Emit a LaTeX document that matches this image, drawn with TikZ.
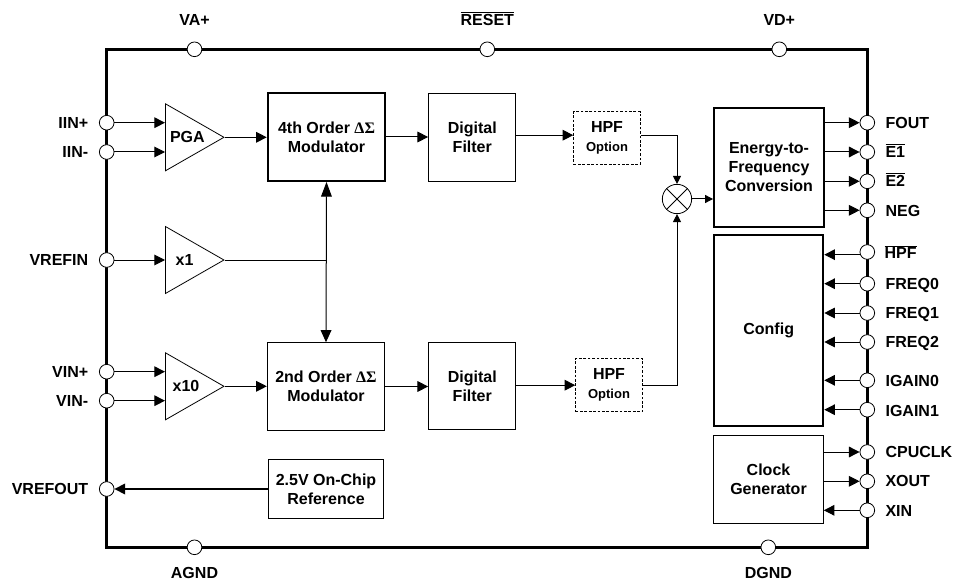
\documentclass[tikz,border=0pt]{standalone}
\usepackage{fontspec}
\setmainfont{Liberation Sans}
\newfontfamily\greekfont{Liberation Serif}
\usetikzlibrary{arrows.meta,shapes.geometric}
\newcommand{\barred}[1]{$\overline{\hbox{#1}}$}

\begin{document}
\begin{tikzpicture}[x=0.75pt, y=-0.75pt,
                    every node/.style = {font=\fontsize{12}{14.4}\selectfont\bfseries, align=center},
                    chip/.style = {draw, line width=2.5pt, minimum width=570.4pt, minimum height=373.5pt},
                    pin/.style = {draw, circle, fill=white, line width=0.6pt, inner sep=0pt, minimum size=11pt},
                    block/.style = {draw, line width=0.75pt, inner sep=0pt},
                    heavy/.style = {draw, line width=1.4pt, inner sep=0pt},
                    option/.style = {draw, line width=0.6pt, inner sep=0pt, dash pattern=on 2pt off 1.3pt},
                    amp/.style = {draw, isosceles triangle, isosceles triangle apex angle=59.6, line width=0.6pt, inner sep=0pt, minimum height=43.9pt, minimum width=50pt, anchor=west},
                    pinname/.style = {inner sep=0pt, text height=8.7pt, text depth=0pt},
                    sig/.style = {line width=0.75pt, -{Triangle[length=8pt,width=8pt]}},
                    tiny/.style = {line width=0.75pt, -{Triangle[length=6pt,width=6pt]}},
                    wire/.style = {line width=0.75pt}]
    \useasboundingbox (0,0) rectangle (953,581);

    \node[chip] (chip) at (487,298.3) {};

    \node[pin] (vap) at (194.5,49.3) {};
    \node[pin] (reset) at (487.3,49.3) {};
    \node[pin] (vdp) at (779.3,49.3) {};
    \node[pin] (agnd) at (194.5,547.3) {};
    \node[pin] (dgnd) at (768.3,547.3) {};
    \node[pin] (iinp) at (106.7,122.7) {};
    \node[pin] (iinn) at (106.7,152) {};
    \node[pin] (vrefin) at (106.7,260) {};
    \node[pin] (vinp) at (106.7,371.7) {};
    \node[pin] (vinn) at (106.7,400.7) {};
    \node[pin] (vrefout) at (106.7,489) {};
    \node[pin] (fout) at (867.3,122.7) {};
    \node[pin] (eone) at (867.3,152) {};
    \node[pin] (etwo) at (867.3,181.3) {};
    \node[pin] (neg) at (867.3,210.3) {};
    \node[pin] (nhpf) at (867.3,252) {};
    \node[pin] (freqa) at (867.3,283.7) {};
    \node[pin] (freqb) at (867.3,313) {};
    \node[pin] (freqc) at (867.3,342) {};
    \node[pin] (igaina) at (867.3,380.3) {};
    \node[pin] (igainb) at (867.3,409.7) {};
    \node[pin] (cpuclk) at (867.3,452) {};
    \node[pin] (xout) at (867.3,481.3) {};
    \node[pin] (xin) at (867.3,510.3) {};

    \node[pinname] (vapname) at (194.5,20) {VA+};
    \node[pinname] (resetname) at (487.3,20) {\barred{RESET}};
    \node[pinname] (vdpname) at (779.3,20) {VD+};
    \node[pinname] (agndname) at (194.5,573) {AGND};
    \node[pinname] (dgndname) at (768.3,573) {DGND};
    \node[pinname, anchor=east] (iinpname) at (88.5,122.7) {IIN+};
    \node[pinname, anchor=east] (iinnname) at (88.5,151.7) {IIN-};
    \node[pinname, anchor=east] (vrefinname) at (88.5,259.7) {VREFIN};
    \node[pinname, anchor=east] (vinpname) at (88.5,371.3) {VIN+};
    \node[pinname, anchor=east] (vinnname) at (88.5,400.3) {VIN-};
    \node[pinname, anchor=east] (vrefoutname) at (88.5,488.3) {VREFOUT};
    \node[pinname, anchor=west] (foutname) at (885.3,122.3) {FOUT};
    \node[pinname, anchor=west] (eonename) at (885.3,151.7) {\barred{E1}};
    \node[pinname, anchor=west] (etwoname) at (885.3,180.3) {\barred{E2}};
    \node[pinname, anchor=west] (negname) at (885.3,210.3) {NEG};
    \node[pinname, anchor=west] (nhpfname) at (884.3,253) {\barred{HPF}};
    \node[pinname, anchor=west] (freqaname) at (885.3,283.3) {FREQ0};
    \node[pinname, anchor=west] (freqbname) at (885.3,312.7) {FREQ1};
    \node[pinname, anchor=west] (freqcname) at (885.3,341.7) {FREQ2};
    \node[pinname, anchor=west] (igainaname) at (885.3,380.7) {IGAIN0};
    \node[pinname, anchor=west] (igainbname) at (885.3,410.3) {IGAIN1};
    \node[pinname, anchor=west] (cpuclkname) at (885.3,451.3) {CPUCLK};
    \node[pinname, anchor=west] (xoutname) at (885.3,480.3) {XOUT};
    \node[pinname, anchor=west] (xinname) at (885.3,510.3) {XIN};

    \node[amp] (pga) at (165,137.3) {PGA};
    \node[amp] (xone) at (165,260) {x1};
    \node[amp] (xten) at (165,386.3) {x10};

    \node[heavy, minimum width=88.2pt, minimum height=66pt] (modfour) at (326.5,137) {4th Order {\greekfont ΔΣ}\\Modulator};
    \node[block, minimum width=88pt, minimum height=65.7pt] (modtwo) at (326,386.5) {2nd Order {\greekfont ΔΣ}\\Modulator};
    \node[block, minimum width=65.5pt, minimum height=65.8pt] (digone) at (472.3,137.2) {Digital\\Filter};
    \node[block, minimum width=65.5pt, minimum height=65.3pt] (digtwo) at (472.3,386.2) {Digital\\Filter};
    \node[option, minimum width=50pt, minimum height=39.2pt] (hpfone) at (607,137.8) {HPF\\{\fontsize{9.75}{13}\selectfont Option}};
    \node[option, minimum width=50pt, minimum height=39.8pt] (hpftwo) at (609,385.2) {HPF\\{\fontsize{9.75}{13}\selectfont Option}};
    \node[draw, circle, line width=0.6pt, minimum size=22pt, inner sep=0pt] (mult) at (677,199) {};
    \node[heavy, minimum width=82.5pt, minimum height=89.5pt] (energy) at (769,167.3) {Energy-to-\\Frequency\\Conversion};
    \node[heavy, minimum width=82pt, minimum height=143pt] (config) at (768.7,330.3) {Config};
    \node[block, minimum width=82.2pt, minimum height=65.7pt] (clock) at (768.5,479.5) {Clock\\Generator};
    \node[block, minimum width=86.5pt, minimum height=44pt] (onchip) at (326,489) {2.5V On-Chip\\Reference};

    \draw[line width=0.6pt] (mult.north west) -- (mult.south east);
    \draw[line width=0.6pt] (mult.north east) -- (mult.south west);

    \draw[sig] (iinp) -- (iinp -| pga.west);
    \draw[sig] (iinn) -- (iinn -| pga.west);
    \draw[sig] (vrefin) -- (vrefin -| xone.west);
    \draw[sig] (vinp) -- (vinp -| xten.west);
    \draw[sig] (vinn) -- (vinn -| xten.west);
    \draw[sig] (pga.apex) -- (pga.apex -| modfour.west);
    \draw[sig] (xten.apex) -- (xten.apex -| modtwo.west);
    \draw[wire] (xone.apex) -- (xone.apex -| modfour.south);
    \draw[line width=0.75pt, {Triangle[length=11pt,width=8pt]}-{Triangle[length=9pt,width=8pt]}] (modfour.south) -- (modtwo.north);
    \draw[sig] (modfour.east) -- (modfour.east -| digone.west);
    \draw[sig] (modtwo.east) -- (modtwo.east -| digtwo.west);
    \draw[sig] ([yshift=1.5pt]digone.east) -- ([yshift=1.5pt]digone.east -| hpfone.west);
    \draw[sig] (hpftwo.west -| digtwo.east) -- (hpftwo.west);
    \draw[tiny] ([yshift=1.5pt]hpfone.east) -| (mult.north);
    \draw[tiny] (hpftwo.east) -| (mult.south);
    \draw[tiny] (mult.east) -- (mult.east -| energy.west);
    \draw[sig, line width=1.1pt] (onchip.west) -- (vrefout);

    \draw[sig] (fout -| energy.east) -- (fout);
    \draw[sig] (eone -| energy.east) -- (eone);
    \draw[sig] (etwo -| energy.east) -- (etwo);
    \draw[sig] (neg -| energy.east) -- (neg);
    \draw[sig] ([yshift=-2pt]nhpf.west) -- ([yshift=-2pt]nhpf.west -| config.east);
    \draw[sig] (freqa) -- (freqa -| config.east);
    \draw[sig] (freqb) -- (freqb -| config.east);
    \draw[sig] (freqc) -- (freqc -| config.east);
    \draw[sig] (igaina) -- (igaina -| config.east);
    \draw[sig] (igainb) -- (igainb -| config.east);
    \draw[sig] (cpuclk -| clock.east) -- (cpuclk);
    \draw[sig] (xout -| clock.east) -- (xout);
    \draw[sig] (xin) -- (xin -| clock.east);
\end{tikzpicture}
\end{document}
